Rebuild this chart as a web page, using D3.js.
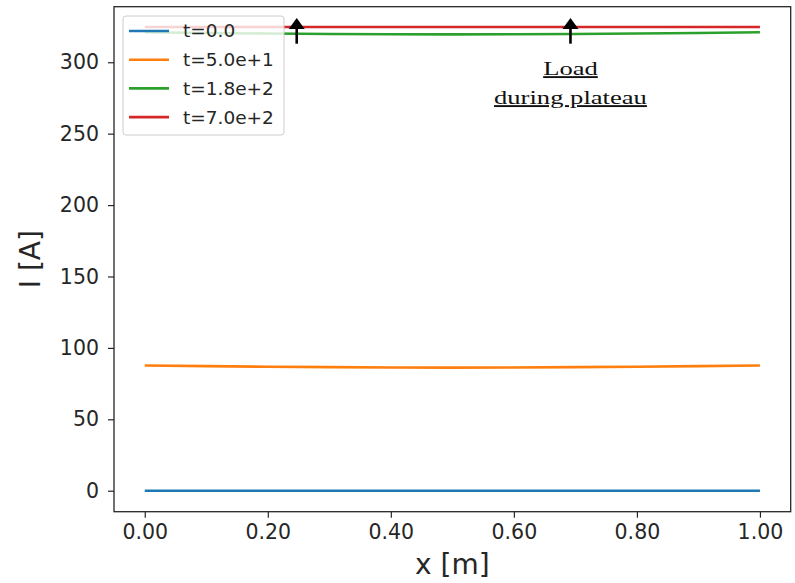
<!DOCTYPE html>
<html>
<head>
<meta charset="utf-8">
<script src="https://cdn.jsdelivr.net/npm/d3@7"></script>
<style>
  body { margin: 0; background: #fff; }
  svg { display: block; }
</style>
</head>
<body>
<svg id="chart" width="795" height="583"></svg>
<script>
"use strict";

// positions along the conductor [m]
const xs = [0, 0.1, 0.2, 0.3, 0.4, 0.5, 0.6, 0.7, 0.8, 0.9, 1.0];

// current I [A] per time step
const current_t0 = [0, 0, 0, 0, 0, 0, 0, 0, 0, 0, 0];
const current_t50 = [87.7, 87.2, 86.8, 86.5, 86.3, 86.2, 86.3, 86.5, 86.8, 87.2, 87.7];
const current_t180 = [321.0, 320.5, 320.1, 319.8, 319.6, 319.5, 319.6, 319.8, 320.1, 320.5, 321.0];
const current_t700 = [324.7, 324.7, 324.7, 324.7, 324.7, 324.7, 324.7, 324.7, 324.7, 324.7, 324.7];

const seriesLabels = ["t=0.0", "t=5.0e+1", "t=1.8e+2", "t=7.0e+2"];
const seriesValues = [current_t0, current_t50, current_t180, current_t700];
const colors = ["#1f77b4", "#ff7f0e", "#2ca02c", "#d62728"];

const xTicks = [0, 0.2, 0.4, 0.6, 0.8, 1.0];
const yTicks = [0, 50, 100, 150, 200, 250, 300];

// arrows for the "load during plateau" note (x in m, I in A)
const arrowX = [0.247, 0.692];
const arrowFrom = 313;
const arrowTo = 331;
const noteLines = ["Load", "during plateau"];

const width = 795, height = 583;
const margin = { top: 6.7, right: 4.3, bottom: 71.3, left: 114 };
const innerW = width - margin.left - margin.right;
const innerH = height - margin.top - margin.bottom;

const svg = d3.select("#chart");
const g = svg.append("g").attr("transform", `translate(${margin.left},${margin.top})`);

const x = d3.scaleLinear().domain([-0.05, 1.05]).range([0, innerW]);
const y = d3.scaleLinear().domain([-14.7, 338.9]).range([innerH, 0]);

const tickFont = "'DejaVu Sans', sans-serif";
const ink = "#262626";

// axes
const xAxis = g.append("g")
  .attr("transform", `translate(0,${innerH})`)
  .call(d3.axisBottom(x).tickValues(xTicks).tickFormat(d3.format(".2f")).tickSize(6).tickPadding(7));
const yAxis = g.append("g")
  .call(d3.axisLeft(y).tickValues(yTicks).tickFormat(d3.format("d")).tickSize(6).tickPadding(9));

[xAxis, yAxis].forEach((a) => {
  a.select(".domain").remove();
  a.selectAll(".tick line").attr("stroke", ink).attr("stroke-width", 1.2);
  a.selectAll(".tick text")
    .attr("fill", ink)
    .style("font-family", tickFont)
    .style("font-size", "20.5px");
});

// lines
const line = d3.line()
  .x((d, i) => x(xs[i]))
  .y((d) => y(d))
  .curve(d3.curveMonotoneX);

seriesValues.forEach((vals, i) => {
  g.append("path")
    .datum(vals)
    .attr("fill", "none")
    .attr("stroke", colors[i])
    .attr("stroke-width", 2.6)
    .attr("d", line);
});

// frame
g.append("rect")
  .attr("width", innerW)
  .attr("height", innerH)
  .attr("fill", "none")
  .attr("stroke", ink)
  .attr("stroke-width", 1.3);

// axis labels
svg.append("text")
  .attr("x", margin.left + innerW / 2)
  .attr("y", 574)
  .attr("text-anchor", "middle")
  .attr("fill", ink)
  .style("font-family", tickFont)
  .style("font-size", "28px")
  .text("x [m]");

svg.append("text")
  .attr("transform", `translate(39.5,${margin.top + innerH / 2}) rotate(-90)`)
  .attr("text-anchor", "middle")
  .attr("fill", ink)
  .style("font-family", tickFont)
  .style("font-size", "28px")
  .text("I [A]");

// legend
const legend = svg.append("g").attr("transform", "translate(123,16)");
legend.append("rect")
  .attr("width", 161)
  .attr("height", 119)
  .attr("rx", 3)
  .attr("fill", "#fff")
  .attr("fill-opacity", 0.8)
  .attr("stroke", "#ccc")
  .attr("stroke-width", 1);

seriesLabels.forEach((lbl, i) => {
  const row = legend.append("g").attr("transform", `translate(0,${15 + i * 28.7})`);
  row.append("line")
    .attr("x1", 6).attr("x2", 46)
    .attr("stroke", colors[i])
    .attr("stroke-width", 2.6);
  row.append("text")
    .attr("x", 60)
    .attr("dy", "0.35em")
    .attr("fill", ink)
    .style("font-family", tickFont)
    .style("font-size", "18.5px")
    .text(lbl);
});

// annotation arrows
arrowX.forEach((ax) => {
  const px = x(ax);
  const tail = y(arrowFrom), tip = y(arrowTo);
  g.append("line")
    .attr("x1", px).attr("x2", px)
    .attr("y1", tail).attr("y2", tip + 9)
    .attr("stroke", "#000")
    .attr("stroke-width", 2.6);
  g.append("path")
    .attr("d", `M${px},${tip} L${px - 8},${tip + 11} L${px + 8},${tip + 11} Z`)
    .attr("fill", "#000");
});

// note text (serif, stretched like the original)
const noteX = margin.left + x(arrowX[1]);
noteLines.forEach((t, i) => {
  svg.append("text")
    .attr("transform", `translate(${noteX},${74.5 + i * 29}) scale(1.4,1)`)
    .attr("text-anchor", "middle")
    .attr("fill", "#111")
    .style("font-family", "'Liberation Serif', 'Times New Roman', serif")
    .style("font-size", "19px")
    .style("text-decoration", "underline")
    .text(t);
});
</script>
</body>
</html>
